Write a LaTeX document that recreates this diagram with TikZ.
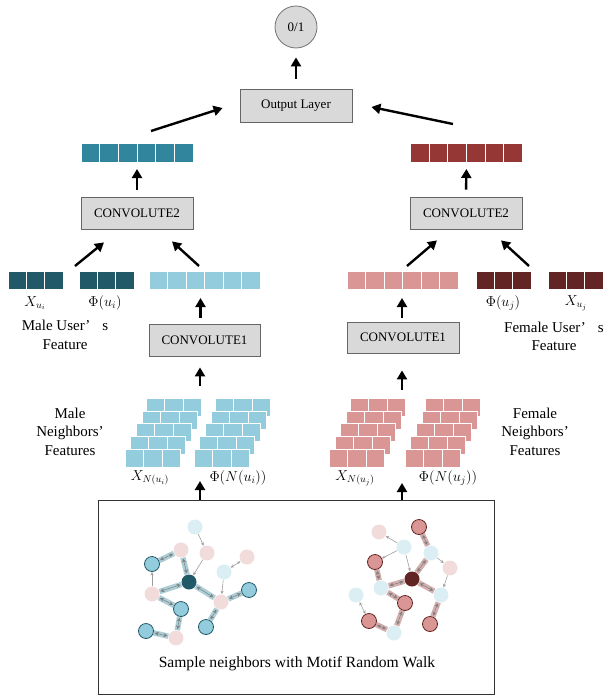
\documentclass[tikz,border=0pt]{standalone}
\usepackage{fontspec}
\setmainfont{Liberation Serif}
\usetikzlibrary{arrows.meta,backgrounds}

\definecolor{tealbar}{HTML}{31859C}
\definecolor{redbar}{HTML}{953735}
\definecolor{darkteal}{HTML}{215968}
\definecolor{darkred}{HTML}{632523}
\definecolor{lightteal}{HTML}{93CDDD}
\definecolor{lightred}{HTML}{D99694}
\definecolor{paleblue}{HTML}{DBEEF4}
\definecolor{palepink}{HTML}{F2DCDB}
\definecolor{boxgray}{HTML}{D9D9D9}

% a row of #3 cells, top-left corner (#1,#2), cell size #4 x #5, fill #6
\newcommand\drawcells[6]{%
  \foreach \k in {1,...,#3}{%
    \filldraw[fill=#6,draw=white,line width=0.7pt]
      ({#1+(\k-1)*#4},#2) rectangle ++(#4,#5);}}

% a stack of five cell rows, back row first; #1..#5 are the row left edges
\newcommand\drawstack[6]{%
  \drawcells{#1}{398}{3}{18.5}{18}{#6}
  \drawcells{#2}{411}{3}{18.5}{18}{#6}
  \drawcells{#3}{423}{3}{18.5}{18}{#6}
  \drawcells{#4}{436}{3}{18.5}{18}{#6}
  \drawcells{#5}{449}{3}{18.5}{18}{#6}}

\begin{document}
\begin{tikzpicture}[x=1pt,y=-1pt,
  layerbox/.style={draw=black!60, fill=boxgray, line width=0.8pt, inner sep=0pt,
    font=\fontsize{13}{15}\selectfont},
  barnode/.style={inner sep=0pt, outer sep=0pt},
  bigarrow/.style={line width=2.4pt, -{Triangle[width=10pt,length=9pt]}},
  lbl/.style={font=\fontsize{15}{18.5}\selectfont, align=center, inner sep=0pt},
  mlbl/.style={font=\fontsize{14.5}{17}\selectfont, inner sep=0pt},
  gnode/.style={circle, minimum size=15pt, inner sep=0pt, line width=0.8pt},
  gpale/.style={gnode, fill=paleblue},
  gpink/.style={gnode, fill=palepink},
  gblue/.style={gnode, fill=lightteal, draw=darkteal},
  gdteal/.style={gnode, fill=darkteal},
  gred/.style={gnode, fill=lightred, draw=darkred},
  gdred/.style={gnode, fill=darkred},
  thin/.style={draw=black!38, line width=0.6pt, -{Stealth[length=3.5pt,width=3pt]}},
  thinboth/.style={draw=black!38, line width=0.6pt, {Stealth[length=3.5pt,width=3pt]}-{Stealth[length=3.5pt,width=3pt]}},
  walkband/.style={line width=5.5pt, draw opacity=0.4},
  walktip/.style={draw=black!50, line width=0.5pt, {Stealth[length=4pt,width=4pt]}-{Stealth[length=4pt,width=4pt]}},
]
\useasboundingbox (0,0) rectangle (605,696);

% ---------- output ----------
\node[circle, minimum size=42pt, inner sep=0pt, fill=boxgray, draw=black!55, line width=0.8pt,
  font=\fontsize{13}{15}\selectfont] (res) at (296,27) {0/1};
\node[layerbox, minimum width=112pt, minimum height=33pt] (olayer) at (296,105.5) {Output Layer};
\draw[bigarrow, shorten <=10pt, shorten >=9pt] (olayer.north) -- (res.south);

% ---------- user vectors ----------
\node[barnode, minimum width=112pt, minimum height=19pt] (hL) at (137,152.5) {};
\drawcells{81}{143}{6}{18.667}{19}{tealbar}
\node[barnode, minimum width=112pt, minimum height=19pt] (hR) at (466.5,152.5) {};
\drawcells{410.5}{143}{6}{18.667}{19}{redbar}

\draw[bigarrow] ([xshift=14pt,yshift=12pt]hL.north) -- ([xshift=-17pt,yshift=-2.5pt]olayer.west);
\draw[bigarrow] ([xshift=-13.5pt,yshift=19pt]hR.north) -- ([xshift=19pt,yshift=-1.5pt]olayer.east);

% ---------- CONVOLUTE2 ----------
\node[layerbox, minimum width=112pt, minimum height=32pt] (c2L) at (137,213) {CONVOLUTE2};
\node[layerbox, minimum width=112pt, minimum height=32pt] (c2R) at (466,213) {CONVOLUTE2};
\draw[bigarrow, shorten <=7pt, shorten >=7pt] (c2L.north) -- (hL.south);
\draw[bigarrow, shorten <=7pt, shorten >=7pt] (c2R.north) -- (hR.south);

% ---------- feature rows ----------
\node[barnode, minimum width=55pt, minimum height=18pt] (xL) at (35.5,280) {};
\drawcells{8}{271}{3}{18.333}{18}{darkteal}
\node[barnode, minimum width=55pt, minimum height=18pt] (pL) at (106.5,280) {};
\drawcells{79}{271}{3}{18.333}{18}{darkteal}
\node[barnode, minimum width=111pt, minimum height=18pt] (nL) at (204.5,280) {};
\drawcells{149}{271}{6}{18.5}{18}{lightteal}

\node[barnode, minimum width=111pt, minimum height=18pt] (nR) at (402.5,280) {};
\drawcells{347}{271}{6}{18.5}{18}{lightred}
\node[barnode, minimum width=55pt, minimum height=18pt] (pR) at (503.5,280) {};
\drawcells{476}{271}{3}{18.333}{18}{darkred}
\node[barnode, minimum width=55pt, minimum height=18pt] (xR) at (575.5,280) {};
\drawcells{548}{271}{3}{18.333}{18}{darkred}

\draw[bigarrow] ([xshift=12pt,yshift=5pt]xL.north east) -- ([xshift=-33pt,yshift=-13pt]c2L.south);
\draw[bigarrow] ([xshift=-5.5pt,yshift=5pt]nL.north) -- ([xshift=35pt,yshift=-12pt]c2L.south);
\draw[bigarrow] ([xshift=4.5pt,yshift=5pt]nR.north) -- ([xshift=-29pt,yshift=-11pt]c2R.south);
\draw[bigarrow] ([xshift=25.5pt,yshift=5pt]pR.north) -- ([xshift=35pt,yshift=-11pt]c2R.south);

\node[mlbl] (xLl) at (35,303) {$X_{u_i}$};
\node[mlbl] (pLl) at (105,303) {$\Phi(u_i)$};
\node[mlbl] (pRl) at (503,303) {$\Phi(u_j)$};
\node[mlbl] (xRl) at (576,303) {$X_{u_j}$};
\node[lbl] (maleu) at (65,335) {Male User’\hspace{0.8em}s\\Feature};
\node[lbl] (femu) at (554,336.5) {Female User’\hspace{0.8em}s\\Feature};

% ---------- CONVOLUTE1 ----------
\node[layerbox, minimum width=111pt, minimum height=32pt] (c1L) at (204.5,340) {CONVOLUTE1};
\node[layerbox, minimum width=112pt, minimum height=31pt] (c1R) at (403,337.5) {CONVOLUTE1};
\draw[bigarrow, shorten <=6pt, shorten >=9pt] ([xshift=-4pt]c1L.north) -- ([xshift=-4pt]nL.south);
\draw[bigarrow, shorten <=4pt, shorten >=9pt] ([xshift=-1pt]c1R.north) -- ([xshift=-0.5pt]nR.south);

% ---------- neighbour feature stacks ----------
\node[barnode, minimum width=145.5pt, minimum height=69pt] (nbL) at (197.75,432.5) {};
\drawstack{146}{142}{136}{130}{125}{lightteal}
\drawstack{215}{211}{205}{199}{194}{lightteal}
\node[barnode, minimum width=152pt, minimum height=69pt] (nbR) at (405,432.5) {};
\drawstack{350}{346}{340}{335}{329}{lightred}
\drawstack{425}{422}{416}{410}{405}{lightred}

\draw[bigarrow] ([xshift=2.25pt,yshift=12pt]nbL.north) -- ([xshift=-4.5pt,yshift=-11pt]c1L.south);
\draw[bigarrow] ([xshift=-3pt,yshift=8pt]nbR.north) -- ([xshift=-1pt,yshift=-17pt]c1R.south);

\node[mlbl] (xnL) at (150,478) {$X_{N(u_i)}$};
\node[mlbl] (pnL) at (238,478) {$\Phi(N(u_i))$};
\node[mlbl] (xnR) at (355,478) {$X_{N(u_j)}$};
\node[mlbl] (pnR) at (448,478) {$\Phi(N(u_j))$};
\node[lbl] (malen) at (70,431.5) {Male\\Neighbors’\\Features};
\node[lbl] (femn) at (535,431.5) {Female\\Neighbors’\\Features};

% ---------- sampling box ----------
\node[draw=black!80, line width=1pt, minimum width=396pt, minimum height=194pt, inner sep=0pt] (walk) at (296,597) {};
\node[font=\fontsize{15.6}{18}\selectfont, inner sep=0pt] (walkt) at (297,664) {Sample neighbors with Motif Random Walk};
\draw[bigarrow] ([xshift=-96pt]walk.north) -- ([xshift=2.25pt,yshift=-14pt]nbL.south);
\draw[bigarrow] ([xshift=106pt]walk.north) -- ([xshift=-3pt,yshift=-16pt]nbR.south);

% male user graph
\node[gpale] (a1) at (195,527) {};
\node[gpink] (a2) at (181,550) {};
\node[gpink] (a3) at (207,553) {};
\node[gblue] (a4) at (152,564) {};
\node[gdteal] (a0) at (189,582) {};
\node[gpale] (a5) at (224,572) {};
\node[gpink] (a6) at (247,557) {};
\node[gpink] (a7) at (152,594) {};
\node[gblue] (a8) at (181,609) {};
\node[gpink] (a9) at (221,602) {};
\node[gblue] (a10) at (249,590) {};
\node[gblue] (a11) at (146,631) {};
\node[gpink] (a12) at (176,638) {};
\node[gblue] (a13) at (206,627) {};

% female user graph
\node[gpink] (b1) at (379,532) {};
\node[gred] (b2) at (419,527) {};
\node[gpale] (b3) at (404,547) {};
\node[gpale] (b4) at (431,553) {};
\node[gred] (b5) at (375,562) {};
\node[gpink] (b6) at (450,568) {};
\node[gdred] (b0) at (412,579) {};
\node[gpale] (b7) at (381,588) {};
\node[gpale] (b8) at (356,595) {};
\node[gpale] (b9) at (441,595) {};
\node[gred] (b10) at (405,603) {};
\node[gred] (b11) at (369,621) {};
\node[gred] (b12) at (430,624) {};
\node[gpale] (b13) at (394,633) {};

\begin{scope}[on background layer]
  % random-walk steps
  \foreach \u/\v in {a2/a4,a2/a0,a0/a7,a7/a8,a8/a12,a12/a11,a0/a9,a9/a10,a9/a13}{
    \draw[walkband, draw=tealbar] (\u) -- (\v);
    \draw[walktip, shorten <=1pt, shorten >=1pt] (\u) -- (\v);}
  \foreach \u/\v in {b2/b4,b4/b0,b5/b7,b7/b0,b0/b9,b7/b10,b10/b13,b13/b11,b9/b12}{
    \draw[walkband, draw=redbar] (\u) -- (\v);
    \draw[walktip, shorten <=1pt, shorten >=1pt] (\u) -- (\v);}
  % other links
  \draw[thin] (a1) -- (a3);
  \draw[thin] (a3) -- (a0);
  \draw[thinboth] (a5) -- (a6);
  \draw[thin] (a5) -- (a9);
  \draw[thin] (a7) -- (a4);
  \draw[thin] (b3) -- (b1);
  \draw[thin] (b3) -- (b5);
  \draw[thin] (b3) -- (b0);
  \draw[thin] (b4) -- (b6);
  \draw[thin] (b6) -- (b9);
  \draw[thinboth] (b8) -- (b11);
\end{scope}
\end{tikzpicture}
\end{document}
